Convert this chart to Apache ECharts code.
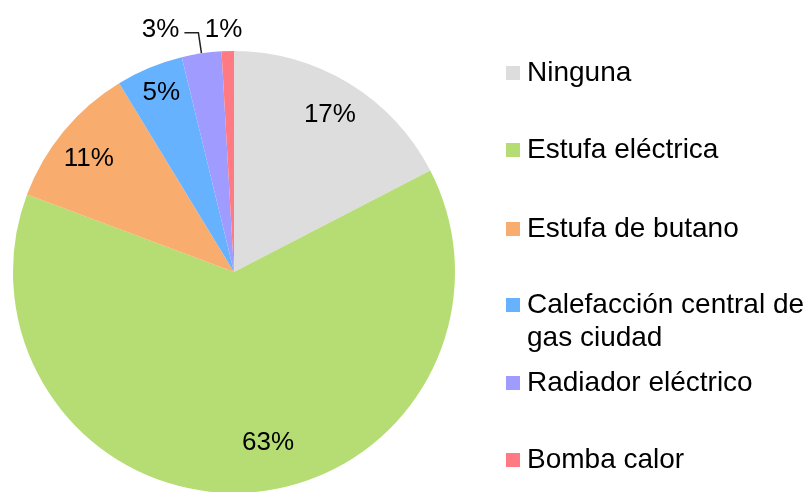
<!DOCTYPE html>
<html>
<head>
<meta charset="utf-8">
<script src="https://cdn.jsdelivr.net/npm/echarts@6/dist/echarts.min.js"></script>
<style>
html,body{margin:0;padding:0;background:#fff;}
#chart{width:806px;height:492px;}
</style>
</head>
<body>
<div id="chart"></div>
<script>
// ---- data ----
const categories = ['Ninguna', 'Estufa eléctrica', 'Estufa de butano', 'Calefacción central de gas ciudad', 'Radiador eléctrico', 'Bomba calor'];
const values = [17.4, 63.3, 10.6, 4.9, 2.9, 0.9];

// ---- styles ----
const colors = ['#DDDDDD', '#B5DD74', '#F8AD6E', '#66B2FF', '#A09CFF', '#FF7A82'];
const FONT = 'Liberation Sans, Arial, sans-serif';
const CENTER = [234, 272];
const R = 221;
// label tweaks (style only)
const insideOffsets = { 'Estufa eléctrica': [23, -13], 'Estufa de butano': [-3, 4], 'Calefacción central de gas ciudad': [-2, -9] };
const outsideLabels = {
  'Radiador eléctrico': { len: 21, len2: 14, showLine: true, offset: [0, -3] },
  'Bomba calor': { len: 14, len2: 0, showLine: false, offset: [20, -7] }
};
const legendCenters = [73, 150, 229, 305, 383, 460];

const chart = echarts.init(document.getElementById('chart'), null, { renderer: 'canvas' });

const mainData = categories.map((name, i) => {
  const item = { name, value: values[i], itemStyle: { color: colors[i] } };
  const o = outsideLabels[name];
  if (o) {
    item.label = { show: true, position: 'outside', offset: o.offset };
    item.labelLine = { show: o.showLine, length: o.len, length2: o.len2 };
  }
  return item;
});

const ringData = categories.map((name, i) => {
  const item = { name, value: values[i] };
  if (outsideLabels[name]) {
    item.label = { show: false };
  } else if (insideOffsets[name]) {
    item.label = { offset: insideOffsets[name] };
  }
  return item;
});

const legends = categories.map((name, i) => {
  const multi = name === 'Calefacción central de gas ciudad';
  const lh = multi ? 33 : 30;
  const half = multi ? 49.5 : 15;
  return {
    orient: 'vertical',
    left: 506,
    top: legendCenters[i] - half,
    padding: 0,
    itemGap: 0,
    itemWidth: 14,
    itemHeight: 14,
    icon: 'rect',
    selectedMode: false,
    data: [name],
    formatter: multi ? () => '\nCalefacción central de\ngas ciudad' : '{name}',
    textStyle: {
      fontFamily: FONT, fontSize: 28, color: '#000', lineHeight: lh,
      padding: [0, 0, 0, 2]
    }
  };
});

chart.setOption({
  animation: false,
  backgroundColor: '#fff',
  legend: legends,
  series: [
    {
      type: 'pie',
      center: CENTER,
      radius: R,
      startAngle: 90,
      clockwise: true,
      avoidLabelOverlap: false,
      percentPrecision: 0,
      silent: true,
      emphasis: { disabled: true, scale: false },
      itemStyle: { borderWidth: 0 },
      label: { show: false, formatter: '{d}%', fontFamily: FONT, fontSize: 26, color: '#000' },
      labelLine: { lineStyle: { color: '#222', width: 1.5 } },
      data: mainData
    },
    {
      type: 'pie',
      center: CENTER,
      radius: [142, R],
      startAngle: 90,
      clockwise: true,
      avoidLabelOverlap: false,
      percentPrecision: 0,
      silent: true,
      emphasis: { disabled: true, scale: false },
      itemStyle: { color: 'rgba(0,0,0,0)', borderWidth: 0 },
      label: { show: true, position: 'inside', formatter: '{d}%', fontFamily: FONT, fontSize: 26, color: '#000' },
      labelLine: { show: false },
      data: ringData
    }
  ]
});
</script>
</body>
</html>
